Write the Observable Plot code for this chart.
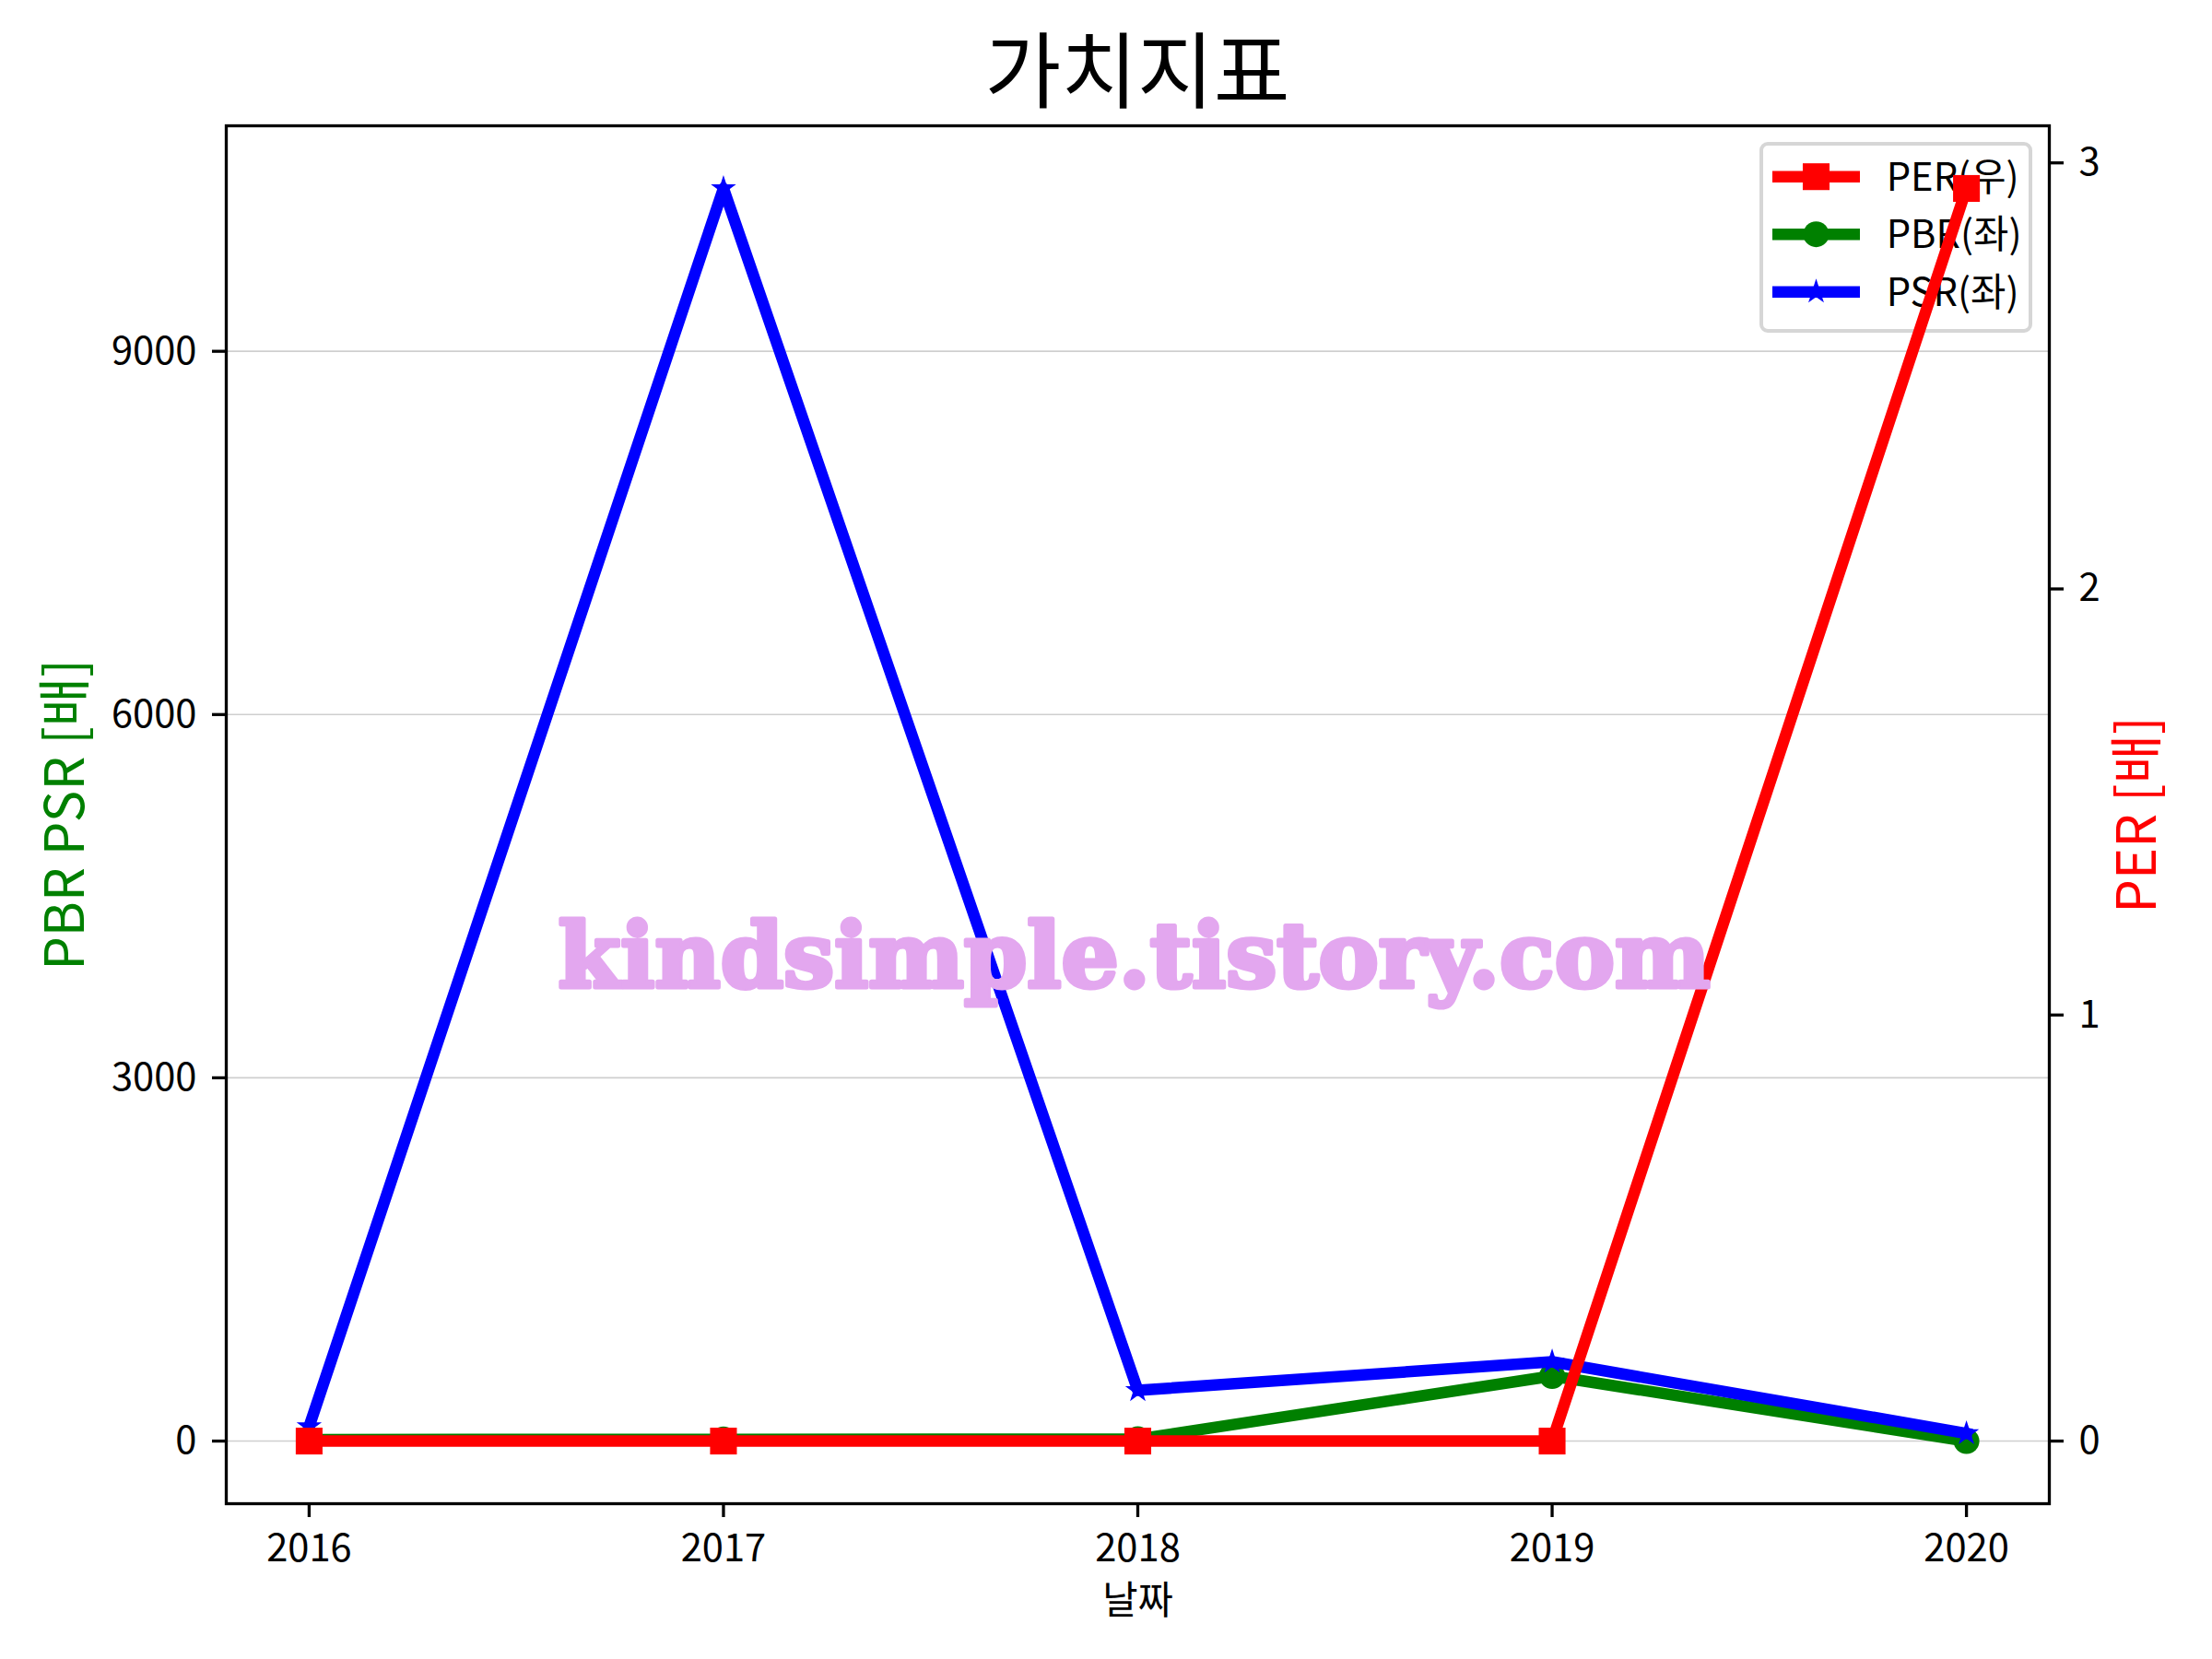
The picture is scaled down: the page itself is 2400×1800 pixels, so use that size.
<!DOCTYPE html>
<html>
<head>
<meta charset="utf-8">
<script src="https://cdn.jsdelivr.net/npm/d3@7"></script>
<script src="https://cdn.jsdelivr.net/npm/@observablehq/plot@0.6"></script>
<style>
  html, body { margin: 0; padding: 0; background: white; }
  #wrap { width: 2400px; height: 1800px; position: relative; background: white; }
  #title { height: 100px; width: 2400px; text-align: center; font-family: 'Noto Sans CJK KR', sans-serif;
           font-size: 90px; line-height: 100px; color: black; position: relative; }
  #title span { position: relative; top: 21px; left: 34px; }
</style>
</head>
<body>
<div id="wrap">
  <div id="title"><span>가치지표</span></div>
  <div id="chart"></div>
</div>
<script>
// ---- data ----
const years = [2016, 2017, 2018, 2019, 2020];
const perValues = [0, 0, 0, 0, 2.94];
const pbrValues = [12, 14, 16, 537, 0];
const psrValues = [120, 10345, 419, 655, 63];
const leftTicks = [0, 3000, 6000, 9000];
const rightTicks = [0, 1, 2, 3];
const legendNames = ["PER(우)", "PBR(좌)", "PSR(좌)"];
const legendColors = ["red", "green", "blue"];
const legendSymbols = ["square", "circle", "star"];
const xLabel = "날짜";
const leftLabel = "PBR PSR [배]";
const rightLabel = "PER [배]";
const watermark = "kindsimple.tistory.com";

// matplotlib-like 5% margins
function padded(vals) {
  const lo = d3.min(vals), hi = d3.max(vals), r = hi - lo;
  return [lo - 0.05 * r, hi + 0.05 * r];
}
const xDomain = padded(years);
const leftDomain = padded([...pbrValues, ...psrValues]);
const rightDomain = padded(perValues);
const toLeft = v => leftDomain[0] + (v - rightDomain[0]) / (rightDomain[1] - rightDomain[0]) * (leftDomain[1] - leftDomain[0]);
const fromLeft = v => rightDomain[0] + (v - leftDomain[0]) / (leftDomain[1] - leftDomain[0]) * (rightDomain[1] - rightDomain[0]);

const rows = years.map((y, i) => ({year: y, pbr: pbrValues[i], psr: psrValues[i], per: toLeft(perValues[i])}));

const LW = 12.5;
const R_SQ = 16.4, R_CI = 14, R_ST = 8.6;
const symbolR = {square: R_SQ, circle: R_CI, star: R_ST};
const d3Sym = {square: d3.symbolSquare, circle: d3.symbolCircle, star: d3.symbolStar};

function legendMark(index, scales, values, dims) {
  const right = dims.width - dims.marginRight;
  const top = dims.marginTop;
  const w = 292, h = 203;
  const x0 = right - 20 - w, y0 = top + 20;
  const g = d3.create("svg:g");
  g.append("rect").attr("x", x0).attr("y", y0).attr("width", w).attr("height", h)
    .attr("rx", 7).attr("fill", "white").attr("fill-opacity", 0.8)
    .attr("stroke", "#cccccc").attr("stroke-opacity", 0.8).attr("stroke-width", 4);
  legendNames.forEach((name, i) => {
    const cy = y0 + 35.7 + i * 62.5;
    g.append("line").attr("x1", x0 + 12).attr("x2", x0 + 107).attr("y1", cy).attr("y2", cy)
      .attr("stroke", legendColors[i]).attr("stroke-width", LW);
    const r = symbolR[legendSymbols[i]];
    g.append("path").attr("transform", `translate(${x0 + 59.5},${cy})`)
      .attr("d", d3.symbol(d3Sym[legendSymbols[i]], Math.PI * r * r)())
      .attr("fill", legendColors[i]);
    g.append("text").attr("x", x0 + 135.7).attr("y", cy).attr("dy", "0.36em")
      .attr("text-anchor", "start")
      .attr("font-size", 41.7).attr("fill", "black").text(name);
  });
  return g.node();
}

const axisCommon = {tickSize: 15, fontSize: 41.7, strokeWidth: 3.3, label: null, stroke: "black", fill: "black"};

const plot = Plot.plot({
  width: 2400,
  height: 1700,
  marginTop: 36,
  marginBottom: 169,
  marginLeft: 245,
  marginRight: 177,
  style: {fontFamily: "'Noto Sans CJK KR', sans-serif", background: "white", color: "black", overflow: "visible"},
  x: {domain: xDomain},
  y: {domain: leftDomain},
  marks: [
    Plot.gridY(leftTicks, {stroke: "#cfcfcf", strokeOpacity: 1, strokeWidth: 1.6}),
    Plot.line(rows, {x: "year", y: "pbr", stroke: "green", strokeWidth: LW, strokeLinejoin: "round", strokeLinecap: "square"}),
    Plot.dot(rows, {x: "year", y: "pbr", fill: "green", r: R_CI, symbol: "circle"}),
    Plot.line(rows, {x: "year", y: "psr", stroke: "blue", strokeWidth: LW, strokeLinejoin: "round", strokeLinecap: "square"}),
    Plot.dot(rows, {x: "year", y: "psr", fill: "blue", r: R_ST, symbol: "star"}),
    legendMark,
    Plot.line(rows, {x: "year", y: "per", stroke: "red", strokeWidth: LW, strokeLinejoin: "round", strokeLinecap: "square"}),
    Plot.dot(rows, {x: "year", y: "per", fill: "red", r: R_SQ, symbol: "square"}),
    Plot.frame({stroke: "black", strokeWidth: 3.3}),
    Plot.axisX({...axisCommon, ticks: years, tickFormat: d => String(d), tickPadding: 18}),
    Plot.axisY({...axisCommon, anchor: "left", ticks: leftTicks, tickFormat: d => String(d), tickPadding: 17}),
    Plot.axisY({...axisCommon, anchor: "right", ticks: rightTicks.map(toLeft), tickFormat: d => String(Math.round(fromLeft(d))), tickPadding: 17}),
    Plot.text([leftLabel], {text: d => d, frameAnchor: "left", textAnchor: "middle", lineAnchor: "middle", dx: -173, rotate: -90, fill: "green", fontSize: 58}),
    Plot.text([rightLabel], {text: d => d, frameAnchor: "right", textAnchor: "middle", lineAnchor: "middle", dx: 97, rotate: -90, fill: "red", fontSize: 58}),
    Plot.text([xLabel], {text: d => d, frameAnchor: "bottom", lineAnchor: "middle", dy: 106, fill: "black", fontSize: 41.7}),
    Plot.text([watermark], {text: d => d, frameAnchor: "middle", dx: -4, dy: 156, fill: "#e3a7ef", stroke: "#e3a7ef", strokeWidth: 5,
      fontSize: 97, fontWeight: "bold", fontFamily: "'DejaVu Serif', serif"})
  ]
});
plot.querySelectorAll("text").forEach(t => {
  if (t.textContent === watermark) {
    t.setAttribute("textLength", 1250);
    t.setAttribute("lengthAdjust", "spacingAndGlyphs");
  }
});
document.getElementById("chart").appendChild(plot);
</script>
</body>
</html>
